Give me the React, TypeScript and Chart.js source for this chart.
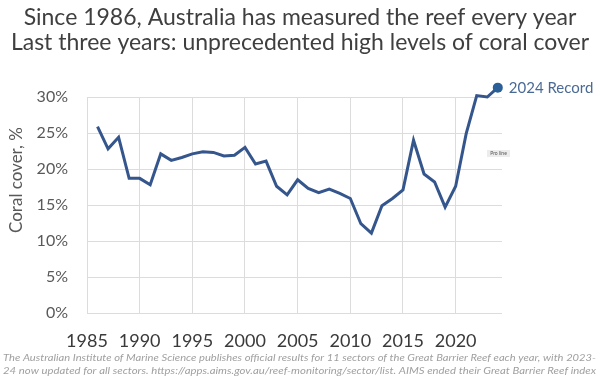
import React, { useEffect, useRef } from "react";
import { Chart, registerables } from "chart.js";

Chart.register(...registerables);

const TITLE_LINES = [
  "Since 1986, Australia has measured the reef every year",
  "Last three years: unprecedented high levels of coral cover",
];
const Y_TITLE = "Coral cover, %";
const RECORD_LABEL = "2024 Record";
const FOOTNOTE = [
  "The Australian Institute of Marine Science publishes official results for 11 sectors of the Great Barrier Reef each year, with 2023-",
  "24 now updated for all sectors. https://apps.aims.gov.au/reef-monitoring/sector/list. AIMS ended their Great Barrier Reef index",
];
const YEARS = [
  1986, 1987, 1988, 1989, 1990, 1991, 1992, 1993, 1994, 1995, 1996, 1997, 1998,
  1999, 2000, 2001, 2002, 2003, 2004, 2005, 2006, 2007, 2008, 2009, 2010, 2011,
  2012, 2013, 2014, 2015, 2016, 2017, 2018, 2019, 2020, 2021, 2022, 2023, 2024,
];
const COVER = [
  25.9, 22.8, 24.4, 18.7, 18.7, 17.8, 22.1, 21.2, 21.6, 22.1, 22.4, 22.3, 21.8,
  21.9, 23.0, 20.7, 21.1, 17.6, 16.4, 18.5, 17.3, 16.7, 17.2, 16.6, 15.9, 12.4,
  11.1, 14.9, 15.9, 17.1, 24.0, 19.3, 18.2, 14.7, 17.6, 24.9, 30.2, 30.0, 31.3,
];
const X_TICKS = [1985, 1990, 1995, 2000, 2005, 2010, 2015, 2020];
const Y_TICKS = [0, 5, 10, 15, 20, 25, 30];

const FONT = "Lato, 'Open Sans', sans-serif";

function fitText(ctx: any, text: string, x: number, y: number, w: number) {
  const m = ctx.measureText(text).width;
  ctx.save();
  ctx.translate(x, y);
  ctx.scale(w / m, 1);
  ctx.fillText(text, 0, 0);
  ctx.restore();
}

const overlay = {
  id: "overlay",
  afterDraw(chart: any) {
    const ctx = chart.ctx;
    const xs = chart.scales.x;
    const ys = chart.scales.y;
    ctx.save();
    // titles
    ctx.fillStyle = "#3f3f3f";
    ctx.textAlign = "center";
    ctx.textBaseline = "middle";
    ctx.font = `23px ${FONT}`;
    ctx.fillText(TITLE_LINES[0], 300, 18, 566);
    ctx.fillText(TITLE_LINES[1], 300, 43, 592);
    // y title
    ctx.save();
    ctx.translate(17, 180);
    ctx.rotate(-Math.PI / 2);
    ctx.fillStyle = "#595959";
    ctx.font = `17px ${FONT}`;
    ctx.fillText(Y_TITLE, 0, 0);
    ctx.restore();
    // record marker + label
    const last = YEARS.length - 1;
    const px = xs.getPixelForValue(YEARS[last]);
    const py = ys.getPixelForValue(COVER[last]);
    ctx.beginPath();
    ctx.arc(px, py, 5, 0, Math.PI * 2);
    ctx.fillStyle = "#2a5f98";
    ctx.fill();
    ctx.fillStyle = "#4a6a96";
    ctx.textAlign = "left";
    ctx.font = `15px ${FONT}`;
    ctx.fillText(RECORD_LABEL, px + 11, py + 1);
    // small tag
    ctx.fillStyle = "#ececec";
    ctx.fillRect(487, 150, 23, 7);
    ctx.fillStyle = "#555555";
    ctx.font = `5px ${FONT}`;
    ctx.textAlign = "center";
    ctx.fillText("Pro line", 498.5, 153.5);
    // footnote
    ctx.fillStyle = "#a0a0a0";
    ctx.textAlign = "left";
    ctx.font = `italic 9px ${FONT}`;
    fitText(ctx, FOOTNOTE[0], 3, 358, 593);
    fitText(ctx, FOOTNOTE[1], 3, 371, 593);
    ctx.restore();
  },
};

export default function App() {
  const ref = useRef<HTMLCanvasElement>(null);
  useEffect(() => {
    document.body.style.margin = "0";
    const chart = new Chart(ref.current as HTMLCanvasElement, {
      type: "line",
      data: {
        datasets: [
          {
            data: YEARS.map((y, i) => ({ x: y, y: COVER[i] })),
            borderColor: "#35568c",
            borderWidth: 3,
            pointRadius: 0,
            tension: 0,
            clip: false as any,
          },
        ],
      },
      options: {
        animation: false,
        responsive: false,
        layout: { padding: { left: 0, top: 97, right: 98, bottom: 0 } },
        plugins: { legend: { display: false }, tooltip: { enabled: false } },
        scales: {
          x: {
            type: "linear",
            min: 1985,
            max: 2024.4,
            afterBuildTicks: (s: any) => {
              s.ticks = X_TICKS.map((v) => ({ value: v }));
            },
            afterFit: (s: any) => {
              s.height = 63;
            },
            grid: { color: "#dcdcdc", lineWidth: 1, drawTicks: false },
            border: { display: false },
            ticks: {
              padding: 17,
              color: "#3a3a3a",
              font: { family: FONT, size: 18 },
              callback: (v: any) => String(v),
              maxRotation: 0,
            },
          },
          y: {
            min: 0,
            max: 30,
            afterBuildTicks: (s: any) => {
              s.ticks = Y_TICKS.map((v) => ({ value: v }));
            },
            afterFit: (s: any) => {
              s.width = 87;
            },
            grid: { color: "#dcdcdc", lineWidth: 1, drawTicks: false },
            border: { display: false },
            ticks: {
              padding: 19,
              color: "#595959",
              font: { family: FONT, size: 16 },
              callback: (v: any) => v + "%",
            },
          },
        },
      },
      plugins: [overlay],
    });
    return () => chart.destroy();
  }, []);
  return (
    <div style={{ width: 600, height: 376, background: "#fff" }}>
      <canvas ref={ref} width={600} height={376} />
    </div>
  );
}
